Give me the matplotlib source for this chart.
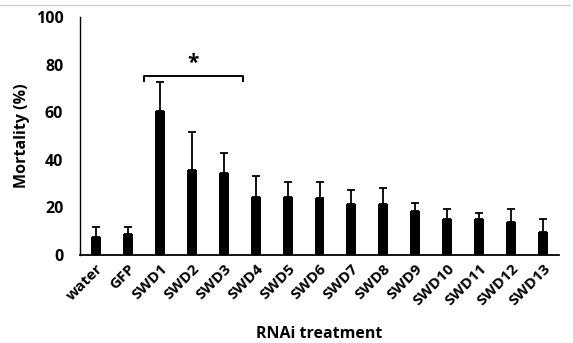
import numpy as np
import matplotlib
matplotlib.use('Agg')
import matplotlib.pyplot as plt
from matplotlib.lines import Line2D

treatments = ['water', 'GFP', 'SWD1', 'SWD2', 'SWD3', 'SWD4', 'SWD5', 'SWD6',
              'SWD7', 'SWD8', 'SWD9', 'SWD10', 'SWD11', 'SWD12', 'SWD13']
mortality = [7.6, 9.0, 60.6, 35.7, 34.3, 24.5, 24.2, 23.9, 21.6, 21.6,
             18.4, 15.3, 15.0, 13.7, 9.5]
err_upper = [4.0, 2.8, 11.9, 16.0, 8.7, 8.7, 6.6, 6.9, 5.7, 6.6,
             3.3, 4.2, 2.8, 5.5, 5.5]
y_ticks = [0, 20, 40, 60, 80, 100]

plt.rcParams['font.family'] = ['Open Sans', 'DejaVu Sans']
plt.rcParams['font.weight'] = 'bold'

fig = plt.figure(figsize=(5.73, 3.43), dpi=100)
ax = fig.add_axes([80 / 573, 1 - 255 / 343, 479 / 573, 238 / 343])

x = np.arange(len(treatments))
ax.bar(x, mortality, width=0.31, color='black',
       yerr=[np.zeros(len(x)), err_upper],
       error_kw=dict(ecolor='black', elinewidth=1.3, capsize=2.6, capthick=1.3))

ax.set_xlim(-0.5, len(treatments) - 0.5)
ax.set_ylim(0, 100)
ax.set_yticks(y_ticks)
ax.set_yticklabels([str(t) for t in y_ticks], fontsize=11.5, fontweight='bold')
ax.set_xticks(x)
ax.set_xticklabels(treatments, rotation=45, ha='right', va='top',
                   rotation_mode='anchor', fontsize=11, fontweight='bold')
ax.tick_params(axis='x', length=0, pad=5)
ax.tick_params(axis='y', length=0, pad=12)
for s in ['top', 'right']:
    ax.spines[s].set_visible(False)
ax.spines['left'].set_linewidth(1.0)
ax.spines['bottom'].set_linewidth(1.3)

ax.set_ylabel('Mortality (%)', fontsize=11.5, fontweight='bold', labelpad=4)
ax.set_xlabel('RNAi treatment', fontsize=11.5, fontweight='bold', labelpad=12.5)

# significance bracket
ax.plot([1.5, 1.5, 4.6, 4.6], [73.3, 75.3, 75.3, 73.3], color='black', lw=1.4,
        clip_on=False)
ax.text(3.05, 76, '*', ha='center', va='bottom', fontsize=15, fontweight='bold')

# thin grey line along the top of the picture
fig.add_artist(Line2D([0, 0.995], [1 - 5 / 343, 1 - 5 / 343], color='#d0d0d0',
                      lw=1, transform=fig.transFigure))

fig.savefig('out.png', dpi=100)
